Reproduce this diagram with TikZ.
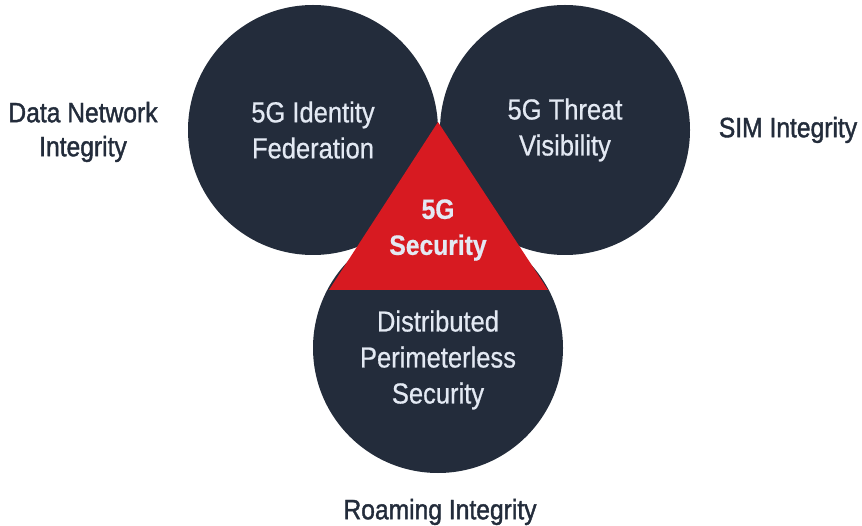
\documentclass[tikz,border=0pt]{standalone}
\usepackage{fontspec}
\setmainfont{Liberation Sans}[FakeStretch=0.88,FakeBold=0.6]
\newfontfamily\labelfont{Liberation Sans}[FakeStretch=0.88,FakeBold=1.4]
\definecolor{navy}{HTML}{232C3B}
\definecolor{secred}{HTML}{D71A21}
\definecolor{pale}{HTML}{E3E9F3}
\begin{document}
\begin{tikzpicture}[x=1pt,y=-1pt]
        \tikzstyle{pillar}=[circle,fill=navy,minimum size=250pt,inner sep=0pt,text=pale,align=center,font=\fontsize{29}{36}\selectfont]
        \tikzstyle{outer}=[text=navy,align=center,font=\labelfont\fontsize{28}{34}\selectfont]
        \useasboundingbox (0,0) rectangle (862,526);
       \begin{scope}
         \node [pillar] (idfed) at (313,130) {5G Identity\\Federation};
         \node [pillar] (threat) at (565,130) {5G Threat\\Visibility};
         \node [pillar] (perim) at (438,348) {};
         \node [pillar,fill=none,minimum size=0pt] (perimtext) at (438,360) {Distributed\\Perimeterless\\Security};
         
         \coordinate (apex) at (438,122);
         \coordinate (baseL) at (329,290);
         \coordinate (baseR) at (548,290);
         \fill[secred] (apex) -- (baseL) -- (baseR) -- cycle;
         \node [text=pale,align=center,font=\bfseries\fontsize{28}{36}\selectfont] (core) at (438,230) {5G\\Security};
         
         \node [outer] (datanet) at (83,132) {Data Network\\Integrity};
         \node [outer] (sim) at (788,130) {SIM Integrity};
         \node [outer] (roam) at (440,512) {Roaming Integrity};
        \end{scope}        
      \end{tikzpicture}
\end{document}
